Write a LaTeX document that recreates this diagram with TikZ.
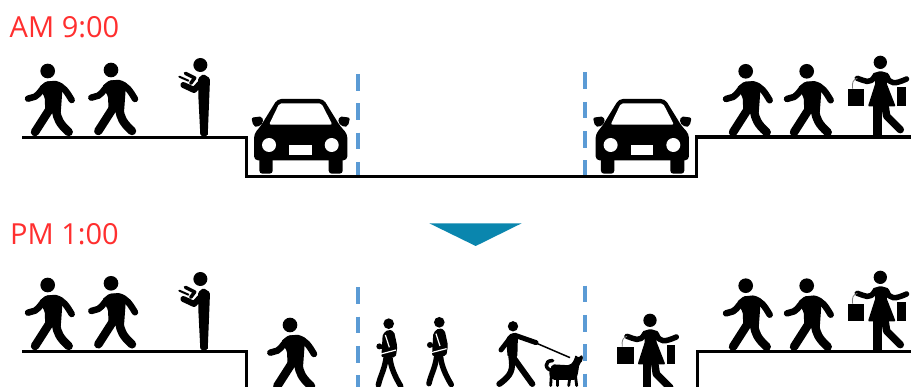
\documentclass[tikz,border=0pt]{standalone}
\usepackage{fontspec}
\setmainfont{Open Sans}
\definecolor{curbblue}{HTML}{5B9BD5}
\definecolor{arrowteal}{HTML}{0A86AE}
\definecolor{timered}{HTML}{FF2F2F}
\tikzset{
  x=1pt,y=-1pt,
  limb/.style={draw=black,line cap=round,line join=round},
  ground/.style={draw=black,line width=3.4pt,line join=miter},
  lane/.style={draw=curbblue,line width=4pt,dash pattern=on 16.7pt off 12.6pt},
  timelabel/.style={text=timered,font=\fontsize{29}{31}\selectfont,inner sep=0pt,anchor=base west},
  walker/.pic={
    \begin{scope}[scale=1/3,shift={(-155,-405)}]
      \fill (143,213) circle (22);
      \fill[rounded corners=1.5pt] (116,262) -- (138,244) -- (168,244) -- (188,258) -- (182,340) -- (136,340) -- (134,292) -- cycle;
      \draw[limb,line width=6.5pt] (84,296) -- (105,290) .. controls (120,282) and (125,262) .. (145,254) -- (165,252) .. controls (190,258) and (200,275) .. (215,300);
      \draw[limb,line width=8.5pt] (146,332) -- (105,396);
      \draw[limb,line width=8.5pt] (168,332) .. controls (172,355) and (177,370) .. (206,396);
    \end{scope}
  },
  readerman/.pic={
    \begin{scope}[scale=1/3,shift={(-611,-405)}]
      \fill (601,195) circle (21);
      \fill[rounded corners=1.5pt] (594,235) -- (610,222) -- (630,235) -- (623,408) -- (601,408) -- (595,290) -- cycle;
      \draw[limb,line width=6pt] (610,240) -- (582,270) -- (550,255);
      \draw[limb,line width=2pt] (538,230) -- (565,242);
      \draw[limb,line width=3.5pt] (556,220) -- (584,234) -- (572,250);
    \end{scope}
  },
  shopper/.pic={
    \begin{scope}[scale=1/3,shift={(-922,-288)}]
      \fill (931,67) circle (20);
      \fill[rounded corners=1pt] (908,100) -- (932,93) -- (956,100) -- (950,130) -- (977,199) -- (894,199) -- (916,130) -- cycle;
      \draw[limb,line width=5.5pt] (862,115) .. controls (885,122) and (900,135) .. (915,108);
      \draw[limb,line width=5.5pt] (950,108) .. controls (960,135) and (975,132) .. (1010,117);
      \draw[black,line width=8.5pt] (922,195) -- (922,288);
      \draw[limb,line width=7.5pt] (945,195) -- (950,228) -- (991,269);
      \draw[gray,line width=.8pt] (848,146) .. controls (845,128) and (850,118) .. (862,115);
      \fill (833,146) rectangle (883,197);
      \fill (982,140) rectangle (1007,197);
    \end{scope}
  },
  carfront/.pic={
    \begin{scope}[scale=1/3,shift={(-902,-525)}]
      \fill[rounded corners=3pt] (778,465) rectangle (818,521);
      \fill[rounded corners=3pt] (986,465) rectangle (1028,521);
      \fill[rounded corners=2pt] (754,353) -- (786,349) -- (790,368) -- (772,382) -- (760,378) -- cycle;
      \fill[rounded corners=2pt] (1050,353) -- (1018,349) -- (1014,368) -- (1032,382) -- (1044,378) -- cycle;
      \fill[rounded corners=4pt] (762,481) -- (762,402) -- (782,378) -- (832,297) -- (970,297) -- (1020,378) -- (1042,402) -- (1042,481) -- cycle;
      \fill[white,rounded corners=2pt] (838,310) -- (964,310) -- (997,374) -- (807,374) -- cycle;
      \fill[white] (807,435) circle (21);
      \fill[white] (995,435) circle (21);
      \fill[white] (868,435) rectangle (935,465);
    \end{scope}
  },
  sideman/.pic={
    \begin{scope}[scale=1/3,shift={(-146,-341)}]
      \fill (146,341) circle (16);
      \fill[rounded corners=2pt] (128,372) -- (145,358) -- (162,364) -- (172,410) -- (167,442) -- (124,442) -- cycle;
      \draw[limb,line width=5.5pt] (138,445) .. controls (133,480) and (120,500) .. (115,525);
      \draw[limb,line width=5.5pt] (150,445) .. controls (152,470) and (165,500) .. (182,528);
      \draw[white,line width=1.2pt] (122,432) -- (168,420);
      \draw[white,line width=1.2pt] (136,375) -- (148,412);
      \fill (118,409) circle (9);
      \draw[limb,line width=3pt] (118,412) -- (135,412);
    \end{scope}
  },
  dogwalker/.pic={
    \begin{scope}[scale=1/3,shift={(-519,-349)}]
      \fill (519,349) circle (15.5);
      \fill[rounded corners=2pt] (498,385) -- (515,368) -- (534,372) -- (532,442) -- (503,442) -- cycle;
      \draw[limb,line width=5pt] (525,376) -- (588,398);
      \draw[limb,line width=5pt] (510,385) -- (483,420);
      \draw[limb,line width=6pt] (514,440) .. controls (520,480) and (515,495) .. (478,522);
      \draw[limb,line width=6pt] (518,440) -- (577,522);
      \draw[black,line width=1.5pt] (590,400) -- (690,443);
      \draw[limb,line width=3.5pt] (642,482) .. controls (612,482) and (612,450) .. (638,452);
      \fill[rounded corners=2pt] (636,463) -- (690,466) -- (703,450) -- (706,434) -- (716,444) -- (726,433) -- (730,450) -- (718,462) -- (714,490) -- (708,510) -- (638,510) -- (626,495) -- cycle;
      \draw[limb,line width=2.8pt] (634,495) -- (632,527);
      \draw[limb,line width=2.8pt] (652,500) -- (652,527);
      \draw[limb,line width=2.8pt] (690,500) -- (686,527);
      \draw[limb,line width=2.8pt] (706,495) -- (710,527);
    \end{scope}
  },
}
\begin{document}
\begin{tikzpicture}
\useasboundingbox (0,0) rectangle (911,387);
\clip (0,0) rectangle (911,387);
\fill[white] (0,0) rectangle (911,387);

% labels
\node[timelabel] (am) at (9.5,38) {AM 9:00};
\node[timelabel] (pm) at (10,245) {PM 1:00};

% arrow
\fill[arrowteal] (429.3,223.3) -- (521.7,223.3) -- (475.7,246) -- cycle;

% street, morning
\draw[ground] (22,137.3) -- (246.7,137.3) -- (246.7,176.7) -- (696.7,176.7) -- (696.7,137) -- (911,137);
\draw[lane] (358,74) -- (358,175);
\draw[lane] (585.3,72.5) -- (585.3,175);

% street, afternoon
\draw[ground] (22,351.3) -- (246.7,351.3) -- (246.7,390);
\draw[ground] (697.3,390) -- (697.3,351.3) -- (911,351.3);
\draw[lane] (358,287.3) -- (358,390);
\draw[lane] (585.3,285.7) -- (585.3,390);

% morning figures
\pic (wa) at (51.7,135) {walker};
\pic (wb) at (115,134) {walker};
\pic (ra) at (203.7,135) {readerman};
\pic (ca) at (300.7,175) {carfront};
\pic (cb) at (642.3,175) {carfront};
\pic (wc) at (749.7,135.3) {walker};
\pic (wd) at (810.7,135.3) {walker};
\pic (sa) at (877.3,136) {shopper};

% afternoon figures
\pic (we) at (51.7,349) {walker};
\pic (wf) at (115,347.3) {walker};
\pic (rb) at (203.7,349) {readerman};
\pic (wg) at (294,389) {walker};
\pic (ma) at (388.7,323.7) {sideman};
\pic (mb) at (439.3,322.3) {sideman};
\pic (da) at (513,326.3) {dogwalker};
\pic (sb) at (647,394) {shopper};
\pic (wh) at (749.7,349.7) {walker};
\pic (wi) at (810.7,349.7) {walker};
\pic (sc) at (877.3,351) {shopper};
\end{tikzpicture}
\end{document}
